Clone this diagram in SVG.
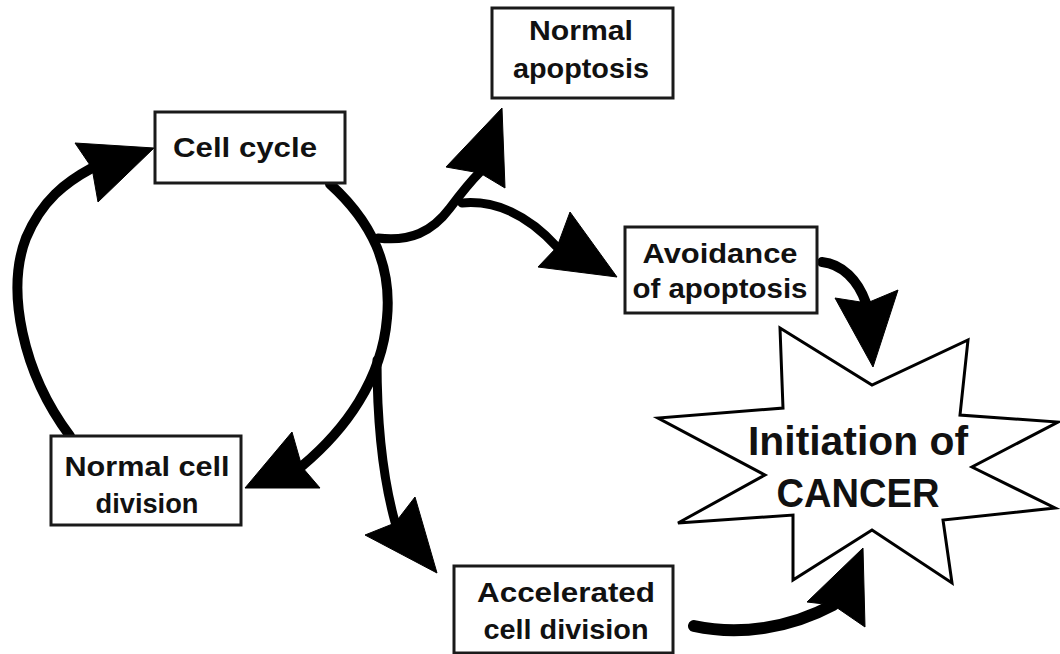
<svg xmlns="http://www.w3.org/2000/svg" width="1060" height="654" viewBox="0 0 1060 654">
<style>
.box{fill:#fff;stroke:#1a1a1a;stroke-width:3}
.t{font-family:"Liberation Sans",Arial,sans-serif;font-weight:bold;fill:#111;text-anchor:middle;font-size:27px}
.big{font-size:40px}
.ln{fill:none;stroke:#000;stroke-linecap:round}
.w10{stroke-width:10}
.w9{stroke-width:9}
.head{fill:#000;stroke:#000;stroke-width:1;stroke-linejoin:round}
.star{fill:#fff;stroke:#000;stroke-width:3;stroke-linejoin:miter}
</style>
<rect width="1060" height="654" fill="#fff"/>
<g id="connectors">
  <path class="ln w10" d="M 70 436 C 22 372, 6 290, 26 238 C 42 200, 66 182, 92 168"/>
  <polygon class="head" points="154,148 75,143 92,168 98,202"/>
  <path class="ln w10" d="M 330 184 C 372 222, 392 265, 387 318 C 382 380, 345 430, 302 466"/>
  <polygon class="head" points="245,488 292,432 302,467 320,488"/>
  <path class="ln w9" d="M 377 360 C 377 420, 382 475, 395 522"/>
  <polygon class="head" points="437,573 365,535 395,523 415,497"/>
  <path class="ln w9" d="M 378 238 C 410 242, 432 232, 450 208 C 462 192, 470 182, 480 172"/>
  <polygon class="head" points="502,108 446,167 480,173 505,188"/>
  <path class="ln w9" d="M 462 203 C 495 200, 528 215, 557 247"/>
  <polygon class="head" points="617,277 570,212 557,247 538,267"/>
  <path class="ln w10" d="M 822 262 C 842 264, 858 280, 866 303"/>
  <polygon class="head" points="873,367 835,298 867,303 898,290"/>
  <path class="ln" stroke-width="12" d="M 694 626 C 740 636, 790 628, 833 605"/>
  <polygon class="head" points="863,548 807,602 833,605 865,627"/>
</g>
<g id="cell-cycle">
  <rect class="box" x="155" y="112" width="190" height="71"/>
  <text class="t" x="245" y="157" textLength="144" lengthAdjust="spacingAndGlyphs">Cell cycle</text>
</g>
<g id="normal-cell-division">
  <rect class="box" x="51" y="436" width="190" height="89"/>
  <text class="t" x="147" y="476" textLength="165" lengthAdjust="spacingAndGlyphs">Normal cell</text>
  <text class="t" x="147" y="513" textLength="103" lengthAdjust="spacingAndGlyphs">division</text>
</g>
<g id="normal-apoptosis">
  <rect class="box" x="492" y="8" width="181" height="90"/>
  <text class="t" x="581" y="40" textLength="104" lengthAdjust="spacingAndGlyphs">Normal</text>
  <text class="t" x="581" y="78" textLength="136" lengthAdjust="spacingAndGlyphs">apoptosis</text>
</g>
<g id="avoidance-of-apoptosis">
  <rect class="box" x="625" y="227" width="192" height="86"/>
  <text class="t" x="720" y="263" textLength="155" lengthAdjust="spacingAndGlyphs">Avoidance</text>
  <text class="t" x="720" y="298" textLength="175" lengthAdjust="spacingAndGlyphs">of apoptosis</text>
</g>
<g id="accelerated-cell-division">
  <rect class="box" x="454" y="566" width="219" height="87"/>
  <text class="t" x="566" y="602" textLength="178" lengthAdjust="spacingAndGlyphs">Accelerated</text>
  <text class="t" x="566" y="639" textLength="165" lengthAdjust="spacingAndGlyphs">cell division</text>
</g>
<g id="initiation-of-cancer">
  <polygon class="star" points="780,328 872,385 968,340 960,415 1058,422 972,467 1055,508 943,520 952,583 872,530 793,580 793,515 678,523 765,475 658,418 783,408"/>
  <text class="t big" x="858" y="455" textLength="220" lengthAdjust="spacingAndGlyphs">Initiation of</text>
  <text class="t big" x="858" y="507" textLength="163" lengthAdjust="spacingAndGlyphs">CANCER</text>
</g>
</svg>
